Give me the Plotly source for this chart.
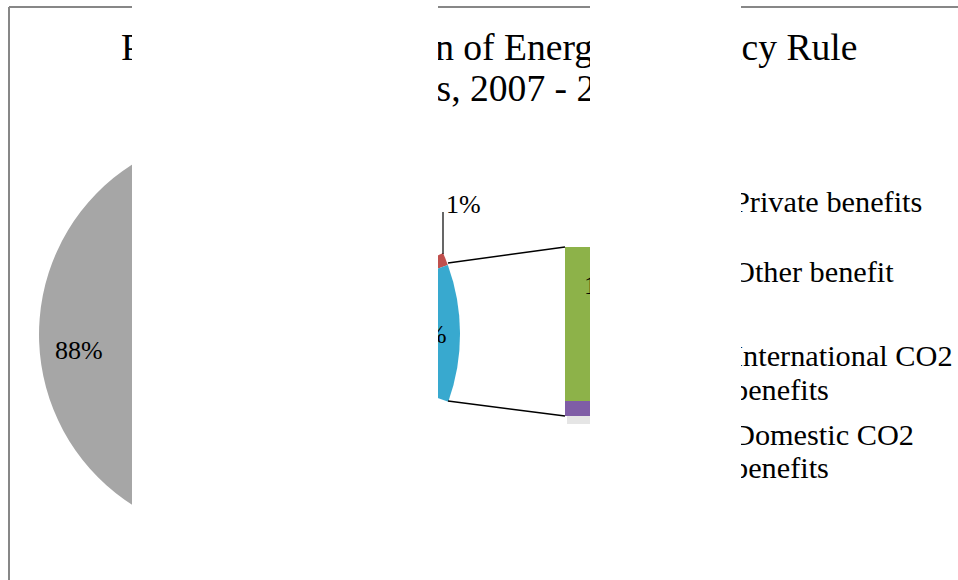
import plotly.graph_objects as go

W, H = 958, 580

# ---- data ----
title_lines = ["Projected Distribution of Energy Efficiency Rule", "Benefits, 2007 - 2030"]
pie_labels = ["Private benefits", "Other benefit", "Other"]
bar_labels = ["Domestic CO2 benefits", "International CO2 benefits"]
bar_values = [1, 10]
pie_values = [88, 1, sum(bar_values)]
legend_lines = [["Private benefits"], ["Other benefit"],
                ["International CO2", "benefits"], ["Domestic CO2", "benefits"]]

# ---- styles ----
pie_colors = ["#A6A6A6", "#C0504D", "#38A9CF"]
bar_colors = ["#7F5DA6", "#8DB249"]
FONT = "Liberation Serif, Times New Roman, serif"


def px(x):
    return x / W


def py(y):
    return 1 - y / H


fig = go.Figure()

fig.add_trace(go.Pie(
    labels=pie_labels, values=pie_values, sort=False,
    direction="clockwise", rotation=109.6,
    pull=[0.084, 0, 0],
    marker=dict(colors=pie_colors, line=dict(width=0)),
    textinfo="none", showlegend=False, hoverinfo="skip",
    domain=dict(x=[px(39), px(477)], y=[py(553), py(115)]),
))

for name, val, col in zip(bar_labels, bar_values, bar_colors):
    fig.add_trace(go.Bar(
        x=["Other"], y=[val], name=name, marker=dict(color=col, line=dict(width=0)),
        showlegend=False, xaxis="x", yaxis="y", hoverinfo="skip",
    ))

fig.update_layout(
    width=W, height=H, margin=dict(l=0, r=0, t=0, b=0),
    paper_bgcolor="white", plot_bgcolor="rgba(0,0,0,0)",
    barmode="stack", bargap=0,
    xaxis=dict(domain=[px(565), px(651)], range=[-0.5, 0.5], visible=False),
    yaxis=dict(domain=[py(416), py(247)], range=[0, sum(bar_values)], visible=False),
    showlegend=False,
)

shapes = []
# chart frame (left and top edges)
shapes.append(dict(type="line", xref="paper", yref="paper", x0=px(9), x1=px(9), y0=py(7), y1=py(580),
                   line=dict(color="#878787", width=2)))
shapes.append(dict(type="line", xref="paper", yref="paper", x0=px(9), x1=1, y0=py(7), y1=py(7),
                   line=dict(color="#878787", width=2)))
# soft shadow under the bar
shapes.append(dict(type="rect", xref="paper", yref="paper", x0=px(567), x1=px(651), y0=py(424), y1=py(416),
                   line=dict(width=0), fillcolor="rgba(0,0,0,0.10)"))
# series lines (pie -> bar)
shapes.append(dict(type="line", xref="paper", yref="paper", x0=px(448), y0=py(263), x1=px(565), y1=py(247),
                   line=dict(color="black", width=1.5)))
shapes.append(dict(type="line", xref="paper", yref="paper", x0=px(448), y0=py(401), x1=px(565), y1=py(416),
                   line=dict(color="black", width=1.5)))
# leader line for the small slice label
shapes.append(dict(type="line", xref="paper", yref="paper", x0=px(443), y0=py(212), x1=px(443), y1=py(254),
                   line=dict(color="black", width=1.2)))
fig.update_layout(shapes=shapes)

ann = []


def text_ann(t, x, yc, size, anchor="center"):
    ann.append(dict(text=t, x=px(x), y=py(yc), xref="paper", yref="paper", xanchor=anchor,
                    yanchor="middle", showarrow=False, borderpad=0,
                    font=dict(family=FONT, size=size, color="black")))


# title
text_ann(title_lines[0], 489, 48, 37.6)
text_ann(title_lines[1], 489, 88.5, 37.6)

# data labels
text_ann(f"{pie_values[0]}%", 79, 350, 26)
text_ann(f"{pie_values[2]}%", 423, 334, 26)
text_ann(f"{pie_values[1]}%", 445, 204, 26, anchor="left")
text_ann(f"{bar_values[1]}%", 608, 285, 26)
text_ann(f"{bar_values[0]}%", 608, 409, 26)

# legend text
legend_y = [[202], [272], [356, 390], [435, 468]]
for lines, ys in zip(legend_lines, legend_y):
    for t, y in zip(lines, ys):
        text_ann(t, 732, y, 30.3, anchor="left")

# white blocks hiding parts of the picture (drawn last so they lie on top)
for x0, x1 in [(132, 437.5), (590, 741)]:
    ann.append(dict(text=" ", x=px(x0), y=1, xref="paper", yref="paper", xanchor="left",
                    yanchor="top", showarrow=False, width=x1 - x0, height=H,
                    bgcolor="white", borderpad=0, borderwidth=0))

fig.update_layout(annotations=ann, hovermode=False, dragmode=False)

fig.write_html("out.html", config={"displayModeBar": False, "staticPlot": True},
               post_script="document.body.style.margin='0px';document.body.style.overflow='hidden';")
